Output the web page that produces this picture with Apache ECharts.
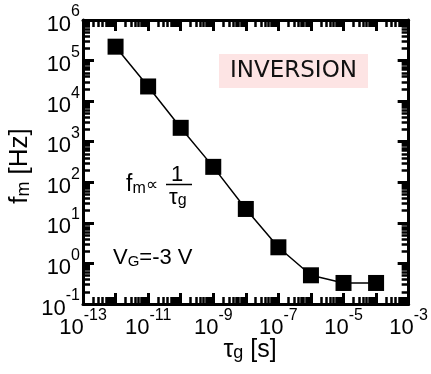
<!DOCTYPE html>
<html>
<head>
<meta charset="utf-8">
<script src="https://cdn.jsdelivr.net/npm/echarts@6/dist/echarts.min.js"></script>
<style>
  html, body { margin: 0; padding: 0; background: #fff; }
  #chart { width: 431px; height: 374px; }
</style>
</head>
<body>
<div id="chart"></div>
<script>
// tau_g [s] vs f_m [Hz]
var tauG = [1e-12, 1e-11, 1e-10, 1e-9, 1e-8, 1e-7, 1e-6, 1e-5, 1e-4]
var fm = [2.2e5, 2.3e4, 2.2e3, 2.4e2, 22, 2.5, 0.51, 0.33, 0.33]
// axis ranges and labelled decades (exponents of 10)
var xRange = [-13, -3]
var yRange = [-1, 6]
var xLabelExp = [-13, -11, -9, -7, -5, -3]
var yLabelExp = [-1, 0, 1, 2, 3, 4, 5, 6]

var FONT = 'Liberation Sans, Arial, sans-serif'

// minor ticks of a log axis, at 2..9 x 10^n
function minorTicks(range) {
  var out = []
  for (var n = range[0]; n < range[1]; n++) {
    for (var k = 2; k <= 9; k++) out.push(n + Math.log10(k))
  }
  return out
}

// width of "10" in the label font, so the exponent sits right after it
var ctx = document.createElement('canvas').getContext('2d')
ctx.font = '22px ' + FONT
var baseWidth = ctx.measureText('10').width

// two-line label: exponent on top (shifted right by the width of "10"), base below
var labelRich = {
  sp: { width: baseWidth, lineHeight: 9, align: 'left', fontSize: 16 },
  s: { fontFamily: FONT, fontSize: 16, color: '#000', lineHeight: 9, align: 'left' },
  b: { fontFamily: FONT, fontSize: 22, color: '#000', lineHeight: 16, align: 'left' }
}

function powLabel(v) {
  return '{sp| }{s|' + Math.round(v) + '}\n{b|10}'
}

// main axis: frame line + major ticks (+ labels when wanted)
function mainAxis(pos, range, labels, margin) {
  return {
    type: 'value',
    position: pos,
    min: range[0],
    max: range[1],
    interval: 1,
    axisLine: { show: true, onZero: false, lineStyle: { color: '#000', width: 3 } },
    axisTick: { show: true, inside: true, length: 11, lineStyle: { color: '#000', width: 3 } },
    axisLabel: labels ? {
      show: true,
      customValues: labels,
      margin: margin,
      formatter: powLabel,
      rich: labelRich
    } : { show: false },
    splitLine: { show: false }
  }
}

// extra axis only carrying the minor ticks
function minorAxis(pos, range) {
  return {
    type: 'value',
    position: pos,
    min: range[0],
    max: range[1],
    axisLine: { show: false, onZero: false },
    axisTick: {
      show: true,
      inside: true,
      length: 7,
      customValues: minorTicks(range),
      lineStyle: { color: '#000', width: 2.5 }
    },
    axisLabel: { show: false },
    splitLine: { show: false }
  }
}

var chart = echarts.init(document.getElementById('chart'))

var option = {
  animation: false,
  backgroundColor: '#fff',
  grid: { left: 83, right: 22, top: 20, bottom: 70 },
  xAxis: [
    mainAxis('bottom', xRange, xLabelExp, 7),
    mainAxis('top', xRange, null),
    minorAxis('bottom', xRange),
    minorAxis('top', xRange)
  ],
  yAxis: [
    mainAxis('left', yRange, yLabelExp, 3),
    mainAxis('right', yRange, null),
    minorAxis('left', yRange),
    minorAxis('right', yRange)
  ],
  series: [
    {
      type: 'line',
      xAxisIndex: 0,
      yAxisIndex: 0,
      data: tauG.map(function (t, i) { return [Math.log10(t), Math.log10(fm[i])] }),
      symbol: 'rect',
      symbolSize: 16,
      itemStyle: { color: '#000' },
      lineStyle: { color: '#000', width: 1.5 }
    }
  ],
  graphic: [
    // INVERSION box
    {
      type: 'rect',
      shape: { x: 219, y: 54, width: 149, height: 34 },
      style: { fill: '#fde4e4' }
    },
    {
      type: 'text',
      x: 293.5,
      y: 71,
      style: {
        text: 'INVERSION',
        font: '23px DejaVu Sans',
        fill: '#111',
        align: 'center',
        verticalAlign: 'middle'
      }
    },
    // f_m ∝ 1/τ_g
    {
      type: 'text',
      x: 126,
      y: 185,
      style: {
        text: 'f{m|m}{p|∝}',
        font: '23px ' + FONT,
        fill: '#000',
        align: 'left',
        verticalAlign: 'middle',
        rich: {
          m: { fontFamily: FONT, fontSize: 16, verticalAlign: 'bottom', lineHeight: 10, padding: [16, 0, 0, 0] },
          p: { fontFamily: FONT, fontSize: 17, lineHeight: 16 }
        }
      }
    },
    {
      type: 'text',
      x: 177,
      y: 175,
      style: { text: '1', font: '22px ' + FONT, fill: '#000', align: 'center', verticalAlign: 'middle' }
    },
    {
      type: 'line',
      shape: { x1: 166, y1: 184.5, x2: 192, y2: 184.5 },
      style: { stroke: '#000', lineWidth: 1.5 }
    },
    {
      type: 'text',
      x: 169,
      y: 198,
      style: {
        text: 'τ{g|g}',
        font: '22px ' + FONT,
        fill: '#000',
        align: 'left',
        verticalAlign: 'middle',
        rich: { g: { fontFamily: FONT, fontSize: 16, verticalAlign: 'bottom', lineHeight: 10, padding: [16, 0, 0, 0] } }
      }
    },
    // V_G = -3 V
    {
      type: 'text',
      x: 113,
      y: 258,
      style: {
        text: 'V{g|G}=-3 V',
        font: '22px ' + FONT,
        fill: '#000',
        align: 'left',
        verticalAlign: 'middle',
        rich: { g: { fontFamily: FONT, fontSize: 15, verticalAlign: 'bottom', lineHeight: 10, padding: [16, 0, 0, 0] } }
      }
    },
    // axis titles
    {
      type: 'text',
      x: 250,
      y: 350,
      style: {
        text: 'τ{g|g} [s]',
        font: '25px ' + FONT,
        fill: '#000',
        align: 'center',
        verticalAlign: 'middle',
        rich: { g: { fontFamily: FONT, fontSize: 18, verticalAlign: 'bottom', lineHeight: 10, padding: [18, 0, 0, 0] } }
      }
    },
    {
      type: 'text',
      x: 20,
      y: 166,
      rotation: Math.PI / 2,
      style: {
        text: 'f{m|m} [Hz]',
        font: '26px ' + FONT,
        fill: '#000',
        align: 'center',
        verticalAlign: 'middle',
        rich: { m: { fontFamily: FONT, fontSize: 18, verticalAlign: 'bottom', lineHeight: 10, padding: [18, 0, 0, 0] } }
      }
    }
  ]
}

chart.setOption(option)
window.addEventListener('resize', function () {
  chart.resize()
})
</script>
</body>
</html>
